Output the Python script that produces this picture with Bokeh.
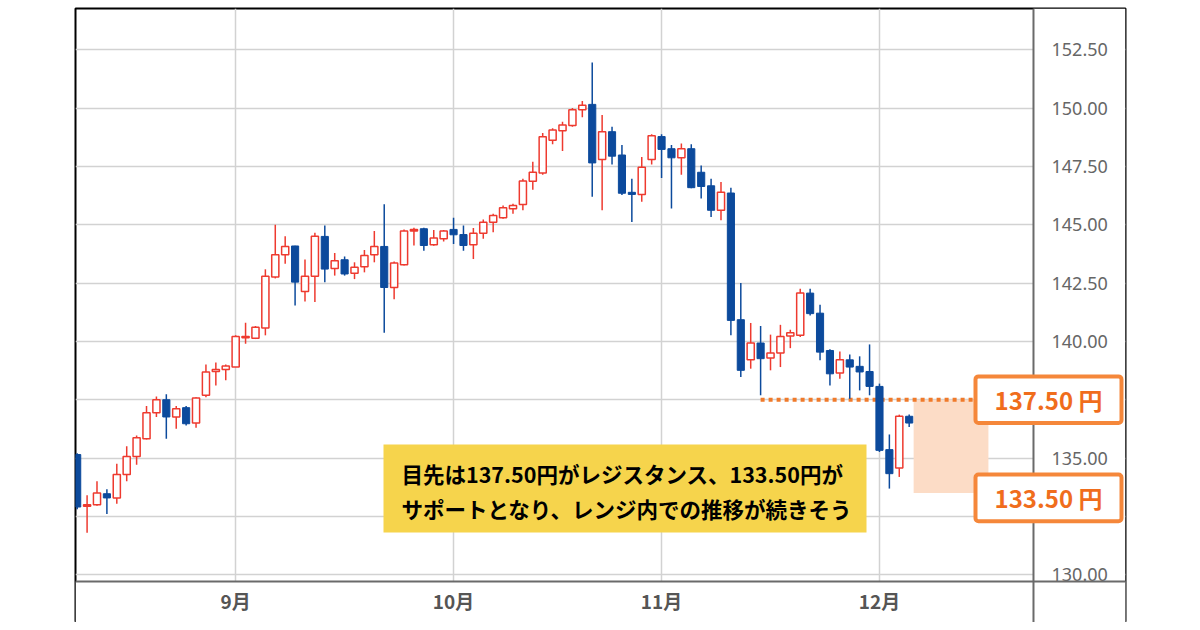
import numpy as np
from bokeh.plotting import figure
from bokeh.models import (ColumnDataSource, FixedTicker, PrintfTickFormatter,
                          Range1d, BoxAnnotation, Label, Span)
from bokeh.embed import file_html
from bokeh.resources import INLINE

# ---------------- data (USD/JPY daily) ----------------
dates = ["08-10", "08-11", "08-12", "08-15", "08-16", "08-17", "08-18", "08-19",
         "08-22", "08-23", "08-24", "08-25", "08-26", "08-29", "08-30", "08-31",
         "09-01", "09-02", "09-05", "09-06", "09-07", "09-08", "09-09", "09-12",
         "09-13", "09-14", "09-15", "09-16", "09-19", "09-20", "09-21", "09-22",
         "09-23", "09-26", "09-27", "09-28", "09-29", "09-30", "10-03", "10-04",
         "10-05", "10-06", "10-07", "10-10", "10-11", "10-12", "10-13", "10-14",
         "10-17", "10-18", "10-19", "10-20", "10-21", "10-24", "10-25", "10-26",
         "10-27", "10-28", "10-31", "11-01", "11-02", "11-03", "11-04", "11-07",
         "11-08", "11-09", "11-10", "11-11", "11-14", "11-15", "11-16", "11-17",
         "11-18", "11-21", "11-22", "11-23", "11-24", "11-25", "11-28", "11-29",
         "11-30", "12-01", "12-02", "12-05", "12-06"]

opens = [135.15, 132.93, 133.00, 133.47, 133.29, 134.29, 135.07, 135.83,
         136.94, 137.50, 136.76, 137.16, 136.50, 137.69, 138.71, 138.79,
         138.90, 140.16, 140.14, 140.57, 142.76, 143.71, 144.09, 142.14,
         142.79, 144.50, 143.13, 143.50, 142.92, 143.20, 143.71, 144.07,
         142.31, 143.29, 144.73, 144.83, 144.14, 144.40, 144.80, 144.58,
         144.14, 144.64, 145.11, 145.30, 145.69, 145.87, 146.86, 147.22,
         148.62, 149.03, 149.25, 149.93, 150.16, 147.80, 148.99, 147.99,
         146.39, 146.30, 147.80, 148.78, 148.26, 147.87, 148.26, 147.25,
         146.67, 145.62, 146.36, 140.93, 139.21, 139.93, 139.29, 139.50,
         140.23, 140.26, 142.07, 141.21, 139.61, 138.64, 139.21, 138.93,
         138.71, 138.07, 135.36, 134.57, 136.79]

highs = [135.20, 133.40, 134.00, 133.66, 134.76, 135.51, 135.97, 137.23,
         137.64, 137.73, 137.23, 137.23, 137.61, 139.01, 139.09, 139.01,
         140.26, 140.80, 140.66, 143.09, 145.00, 144.51, 144.10, 143.51,
         144.66, 144.97, 143.79, 143.64, 143.39, 143.92, 144.73, 145.88,
         143.42, 144.80, 144.87, 144.87, 144.78, 144.78, 145.30, 144.97,
         144.86, 145.22, 145.47, 145.83, 145.90, 146.97, 147.70, 148.93,
         149.14, 149.42, 150.00, 150.30, 151.96, 149.71, 149.20, 148.42,
         146.97, 147.90, 148.88, 148.88, 148.42, 148.48, 148.45, 147.54,
         146.97, 146.83, 146.59, 142.50, 140.79, 140.66, 140.29, 140.71,
         140.50, 142.26, 142.26, 141.57, 139.66, 139.57, 139.44, 139.36,
         139.87, 138.19, 136.01, 136.86, 136.87]

lows = [132.80, 131.80, 132.95, 132.60, 133.04, 134.00, 134.71, 135.79,
        136.76, 135.83, 136.26, 136.40, 136.30, 137.61, 138.11, 138.33,
        138.90, 139.90, 140.10, 140.26, 142.70, 143.33, 141.54, 141.71,
        141.69, 142.53, 142.82, 142.82, 142.67, 142.96, 143.39, 140.37,
        141.81, 143.25, 144.11, 143.89, 144.10, 144.28, 144.18, 143.89,
        143.53, 144.40, 144.68, 145.26, 145.47, 145.62, 146.50, 147.14,
        148.45, 148.16, 149.20, 149.61, 146.20, 145.62, 147.58, 146.28,
        145.12, 145.99, 147.58, 147.00, 145.70, 147.14, 146.57, 146.13,
        145.33, 145.19, 140.26, 138.47, 138.83, 137.69, 138.76, 138.90,
        139.71, 140.19, 141.11, 139.19, 138.11, 138.40, 137.54, 137.90,
        137.69, 135.26, 133.69, 134.19, 136.33]

closes = [132.90, 133.00, 133.50, 133.29, 134.29, 135.07, 135.87, 136.94,
          137.50, 136.76, 137.11, 136.47, 137.57, 138.69, 138.79, 138.94,
          140.21, 140.21, 140.61, 142.79, 143.71, 144.07, 142.54, 142.79,
          144.51, 143.10, 143.46, 142.89, 143.18, 143.68, 144.07, 142.31,
          143.36, 144.73, 144.80, 144.11, 144.43, 144.73, 144.57, 144.11,
          144.64, 145.11, 145.40, 145.73, 145.83, 146.88, 147.25, 148.77,
          149.06, 149.28, 149.93, 150.12, 147.65, 148.99, 147.94, 146.35,
          146.30, 147.46, 148.81, 148.23, 147.87, 148.26, 146.59, 146.64,
          145.62, 146.39, 140.90, 138.76, 139.93, 139.26, 139.50, 140.21,
          140.37, 142.07, 141.19, 139.54, 138.61, 139.21, 138.90, 138.69,
          138.07, 135.33, 134.33, 136.79, 136.50]

price_ticks = [130.0, 132.5, 135.0, 137.5, 140.0, 142.5, 145.0, 147.5, 150.0, 152.5]
month_names = {"09": "9月", "10": "10月", "11": "11月", "12": "12月"}

resistance = 137.50
support = 133.50
swing_low_date = "11-15"

note_line1 = "目先は137.50円がレジスタンス、133.50円が"
note_line2 = "サポートとなり、レンジ内での推移が続きそう"

# ---------------- derived ----------------
n = len(dates)
idx = np.arange(n)
o = np.array(opens); h = np.array(highs); l = np.array(lows); c = np.array(closes)
up = c >= o
down = ~up

src_up = ColumnDataSource(dict(x=idx[up], top=np.maximum(o, c)[up], bottom=np.minimum(o, c)[up],
                               hi=h[up], lo=l[up]))
src_dn = ColumnDataSource(dict(x=idx[down], top=np.maximum(o, c)[down], bottom=np.minimum(o, c)[down],
                               hi=h[down], lo=l[down]))

month_ticks = []
month_labels = {}
for i, d in enumerate(dates):
    m = d[:2]
    if i > 0 and dates[i - 1][:2] != m and m in month_names:
        month_ticks.append(i)
        month_labels[i] = month_names[m]

RED = "#ee3a2f"
BLUE = "#0c4a9c"
ORANGE = "#f5873a"
ORANGE_TXT = "#f06d1c"
GRID = "#d2d2d2"
DIV = "#6a6a6a"

# chart area ends at x_div / y_div; the rest of the frame holds the axis labels
x_div = 96.55
y_div = 129.71

p = figure(frame_width=1050, frame_height=614,
           min_border_left=75, min_border_right=67, min_border_top=8, min_border_bottom=0,
           x_range=Range1d(-0.17, 105.84), y_range=Range1d(127.95, 154.27),
           y_axis_location="right", output_backend="svg", toolbar_location=None,
           tools="", background_fill_color="white", border_fill_color="white")
p.outline_line_color = "black"
p.outline_line_width = 2

# grid
p.xgrid.ticker = FixedTicker(ticks=month_ticks)
p.ygrid.ticker = FixedTicker(ticks=price_ticks)
p.xgrid.grid_line_color = GRID
p.ygrid.grid_line_color = GRID
p.xgrid.grid_line_width = 1.5
p.ygrid.grid_line_width = 1.5

# axes (labels pulled back inside the outer frame)
p.yaxis.ticker = FixedTicker(ticks=price_ticks)
p.yaxis.formatter = PrintfTickFormatter(format="%.2f")
p.yaxis.major_label_text_font = "Noto Sans"
p.yaxis.major_label_text_font_size = "18px"
p.yaxis.major_label_text_color = "#666666"
p.yaxis.major_label_standoff = -74
p.xaxis.ticker = FixedTicker(ticks=month_ticks)
p.xaxis.major_label_overrides = month_labels
p.xaxis.major_label_text_font = "Noto Sans CJK JP"
p.xaxis.major_label_text_font_style = "bold"
p.xaxis.major_label_text_font_size = "19px"
p.xaxis.major_label_text_color = "#555555"
p.xaxis.major_label_standoff = -36
for ax in (p.xaxis, p.yaxis):
    ax.axis_line_color = None
    ax.major_tick_line_color = None
    ax.minor_tick_line_color = None
    ax.major_tick_out = 0
    ax.major_tick_in = 0

# white masks so grid lines stop at the chart area
p.add_layout(BoxAnnotation(left=x_div, right=None, top=None, bottom=None,
                           fill_color="white", fill_alpha=1, line_color=None, level="underlay"))
p.add_layout(BoxAnnotation(left=None, right=None, top=y_div, bottom=None,
                           fill_color="white", fill_alpha=1, line_color=None, level="underlay"))

# shaded range zone
zone_left = n - 0.55
zone_right = n + 7.0
p.add_layout(BoxAnnotation(left=zone_left, right=zone_right, top=resistance, bottom=support,
                           fill_color="#fcdcc6", fill_alpha=1.0, line_color=None, level="underlay"))

# dividers between chart and axis areas
p.add_layout(Span(location=x_div, dimension="height", line_color=DIV, line_width=2))
p.add_layout(Span(location=y_div, dimension="width", line_color=DIV, line_width=2))

# resistance dotted line from swing low
x_start = dates.index(swing_low_date)
p.line(x=[x_start, n + 7.5], y=[resistance, resistance], line_color="#f07a2a",
       line_width=4, line_dash="4 4")

# candles
p.segment(x0="x", y0="lo", x1="x", y1="hi", source=src_up, line_color=RED, line_width=1.5)
p.segment(x0="x", y0="lo", x1="x", y1="hi", source=src_dn, line_color=BLUE, line_width=1.5)
p.vbar(x="x", top="top", bottom="bottom", width=0.72, source=src_up,
       fill_color="white", line_color=RED, line_width=1.5)
p.vbar(x="x", top="top", bottom="bottom", width=0.72, source=src_dn,
       fill_color=BLUE, line_color=BLUE, line_width=1)

# price labels
for level, shift in ((resistance, 0.0), (support, -0.21)):
    p.add_layout(BoxAnnotation(left=900, right=1046, top=level + shift + 1.0, bottom=level + shift - 1.0,
                               left_units="screen", right_units="screen",
                               fill_color="white", fill_alpha=1, line_color=ORANGE,
                               line_alpha=1, line_width=4, border_radius=3))
    p.add_layout(Label(x=973, y=level + shift, x_units="screen", text=f"{level:.2f} 円",
                       text_align="center", text_baseline="middle",
                       text_font="Noto Sans CJK JP", text_font_style="bold",
                       text_font_size="24px", text_color=ORANGE_TXT))

# yellow note (screen units: from frame left / frame bottom)
p.add_layout(BoxAnnotation(left=308, right=791, top=178, bottom=90,
                           left_units="screen", right_units="screen",
                           top_units="screen", bottom_units="screen",
                           fill_color="#f6d44c", fill_alpha=1, line_color=None))
for txt, yy in ((note_line1, 149), (note_line2, 114)):
    p.add_layout(Label(x=326, y=yy, x_units="screen", y_units="screen", text=txt,
                       text_align="left", text_baseline="middle",
                       text_font="Noto Sans CJK JP", text_font_style="bold",
                       text_font_size="21.5px", text_color="black"))

open("out.html", "w").write(file_html(p, INLINE))
